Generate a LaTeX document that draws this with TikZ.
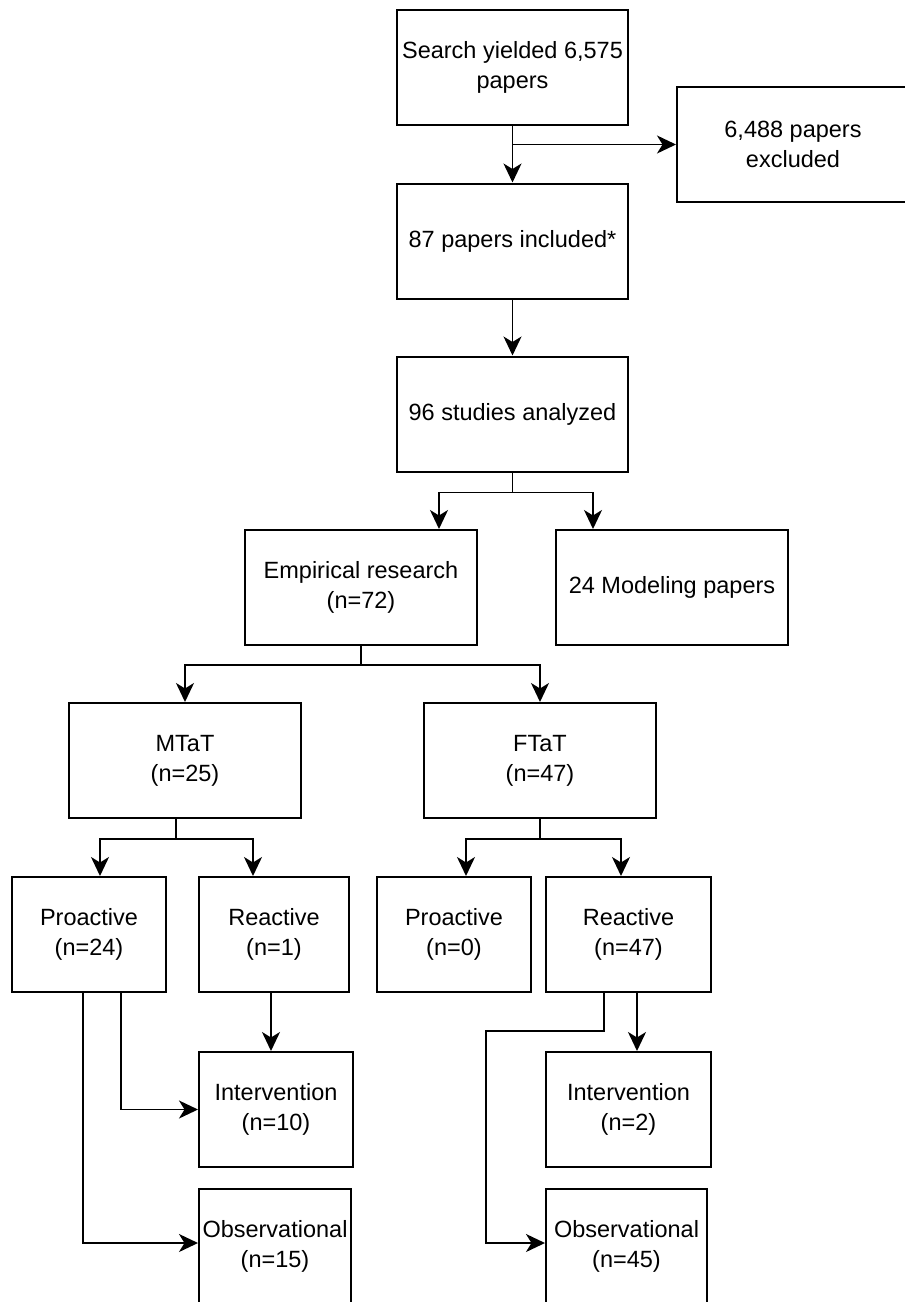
\documentclass[tikz,border=0pt]{standalone}
\usepackage{fontspec}
\setmainfont{Liberation Sans}
\usetikzlibrary{arrows.meta,calc}
\begin{document}
\begin{tikzpicture}[x=1pt,y=-1pt,
  box/.style={draw=black,line width=2pt,rectangle,align=center,inner sep=2pt,
    minimum height=115pt,font=\fontsize{23.5}{30}\selectfont},
  arr/.style={draw=black,line width=1.8pt,-{Stealth[length=19pt,width=18pt,inset=5.5pt]}},
  ln/.style={draw=black,line width=1.8pt}]
\useasboundingbox (0,0) rectangle (905,1302);
\node[box,minimum width=231pt] (search) at (512.5,67.5) {Search yielded 6,575\\papers};
\node[box,minimum width=232pt] (excl) at (793,144.5) {6,488 papers\\excluded};
\node[box,minimum width=231pt] (incl) at (512.5,241) {87 papers included*};
\node[box,minimum width=231pt] (studies) at (512.5,414) {96 studies analyzed};
\node[box,minimum width=232pt] (emp) at (361,587.5) {Empirical research\\(n=72)};
\node[box,minimum width=232pt] (model) at (672,587.5) {24 Modeling papers};
\node[box,minimum width=232pt] (mtat) at (185,760.5) {MTaT\\(n=25)};
\node[box,minimum width=232pt] (ftat) at (540,760.5) {FTaT\\(n=47)};
\node[box,minimum width=154pt] (pro1) at (89,934.5) {Proactive\\(n=24)};
\node[box,minimum width=150pt] (rea1) at (274,934.5) {Reactive\\(n=1)};
\node[box,minimum width=154pt] (pro2) at (454,934.5) {Proactive\\(n=0)};
\node[box,minimum width=165pt] (rea2) at (628.5,934.5) {Reactive\\(n=47)};
\node[box,minimum width=154pt] (int1) at (276,1109.5) {Intervention\\(n=10)};
\node[box,minimum width=152pt] (obs1) at (275,1246) {Observational\\(n=15)};
\node[box,minimum width=165pt] (int2) at (628.5,1109.5) {Intervention\\(n=2)};
\node[box,minimum width=161pt] (obs2) at (626.5,1246) {Observational\\(n=45)};

\draw[arr] (search) -- (incl);
\draw[arr] (excl.west -| search.south) -- (excl.west);
\draw[arr] (incl) -- (studies);
\draw[arr] (studies.south) -- ++(0,20) -| ($(emp.north)+(78,0)$);
\draw[arr] (studies.south) -- ++(0,20) -| ($(model.north)+(-79,0)$);
\draw[arr] (emp.south) -- ++(0,19) -| (mtat.north);
\draw[arr] (emp.south) -- ++(0,19) -| (ftat.north);
\draw[arr] ($(mtat.south)+(-9,0)$) -- ++(0,20) -| ($(pro1.north)+(11,0)$);
\draw[arr] ($(mtat.south)+(-9,0)$) -- ++(0,20) -| ($(rea1.north)+(-21,0)$);
\draw[arr] (ftat.south) -- ++(0,20) -| ($(pro2.north)+(12,0)$);
\draw[arr] (ftat.south) -- ++(0,20) -| ($(rea2.north)+(-7.5,0)$);
\draw[arr] ($(pro1.south)+(32,0)$) |- (int1.west);
\draw[arr] ($(pro1.south)+(-6,0)$) |- ($(obs1.west)+(0,-3)$);
\draw[arr] ($(rea1.south)+(-3,0)$) -- ($(int1.north)+(-5,0)$);
\draw[arr] ($(rea2.south)+(8.5,0)$) -- ($(int2.north)+(8.5,0)$);
\draw[arr] ($(rea2.south)+(-24.5,0)$) -- ++(0,38) -| ($(obs2.west)+(-59,-3)$) -- ($(obs2.west)+(0,-3)$);
\end{tikzpicture}
\end{document}
